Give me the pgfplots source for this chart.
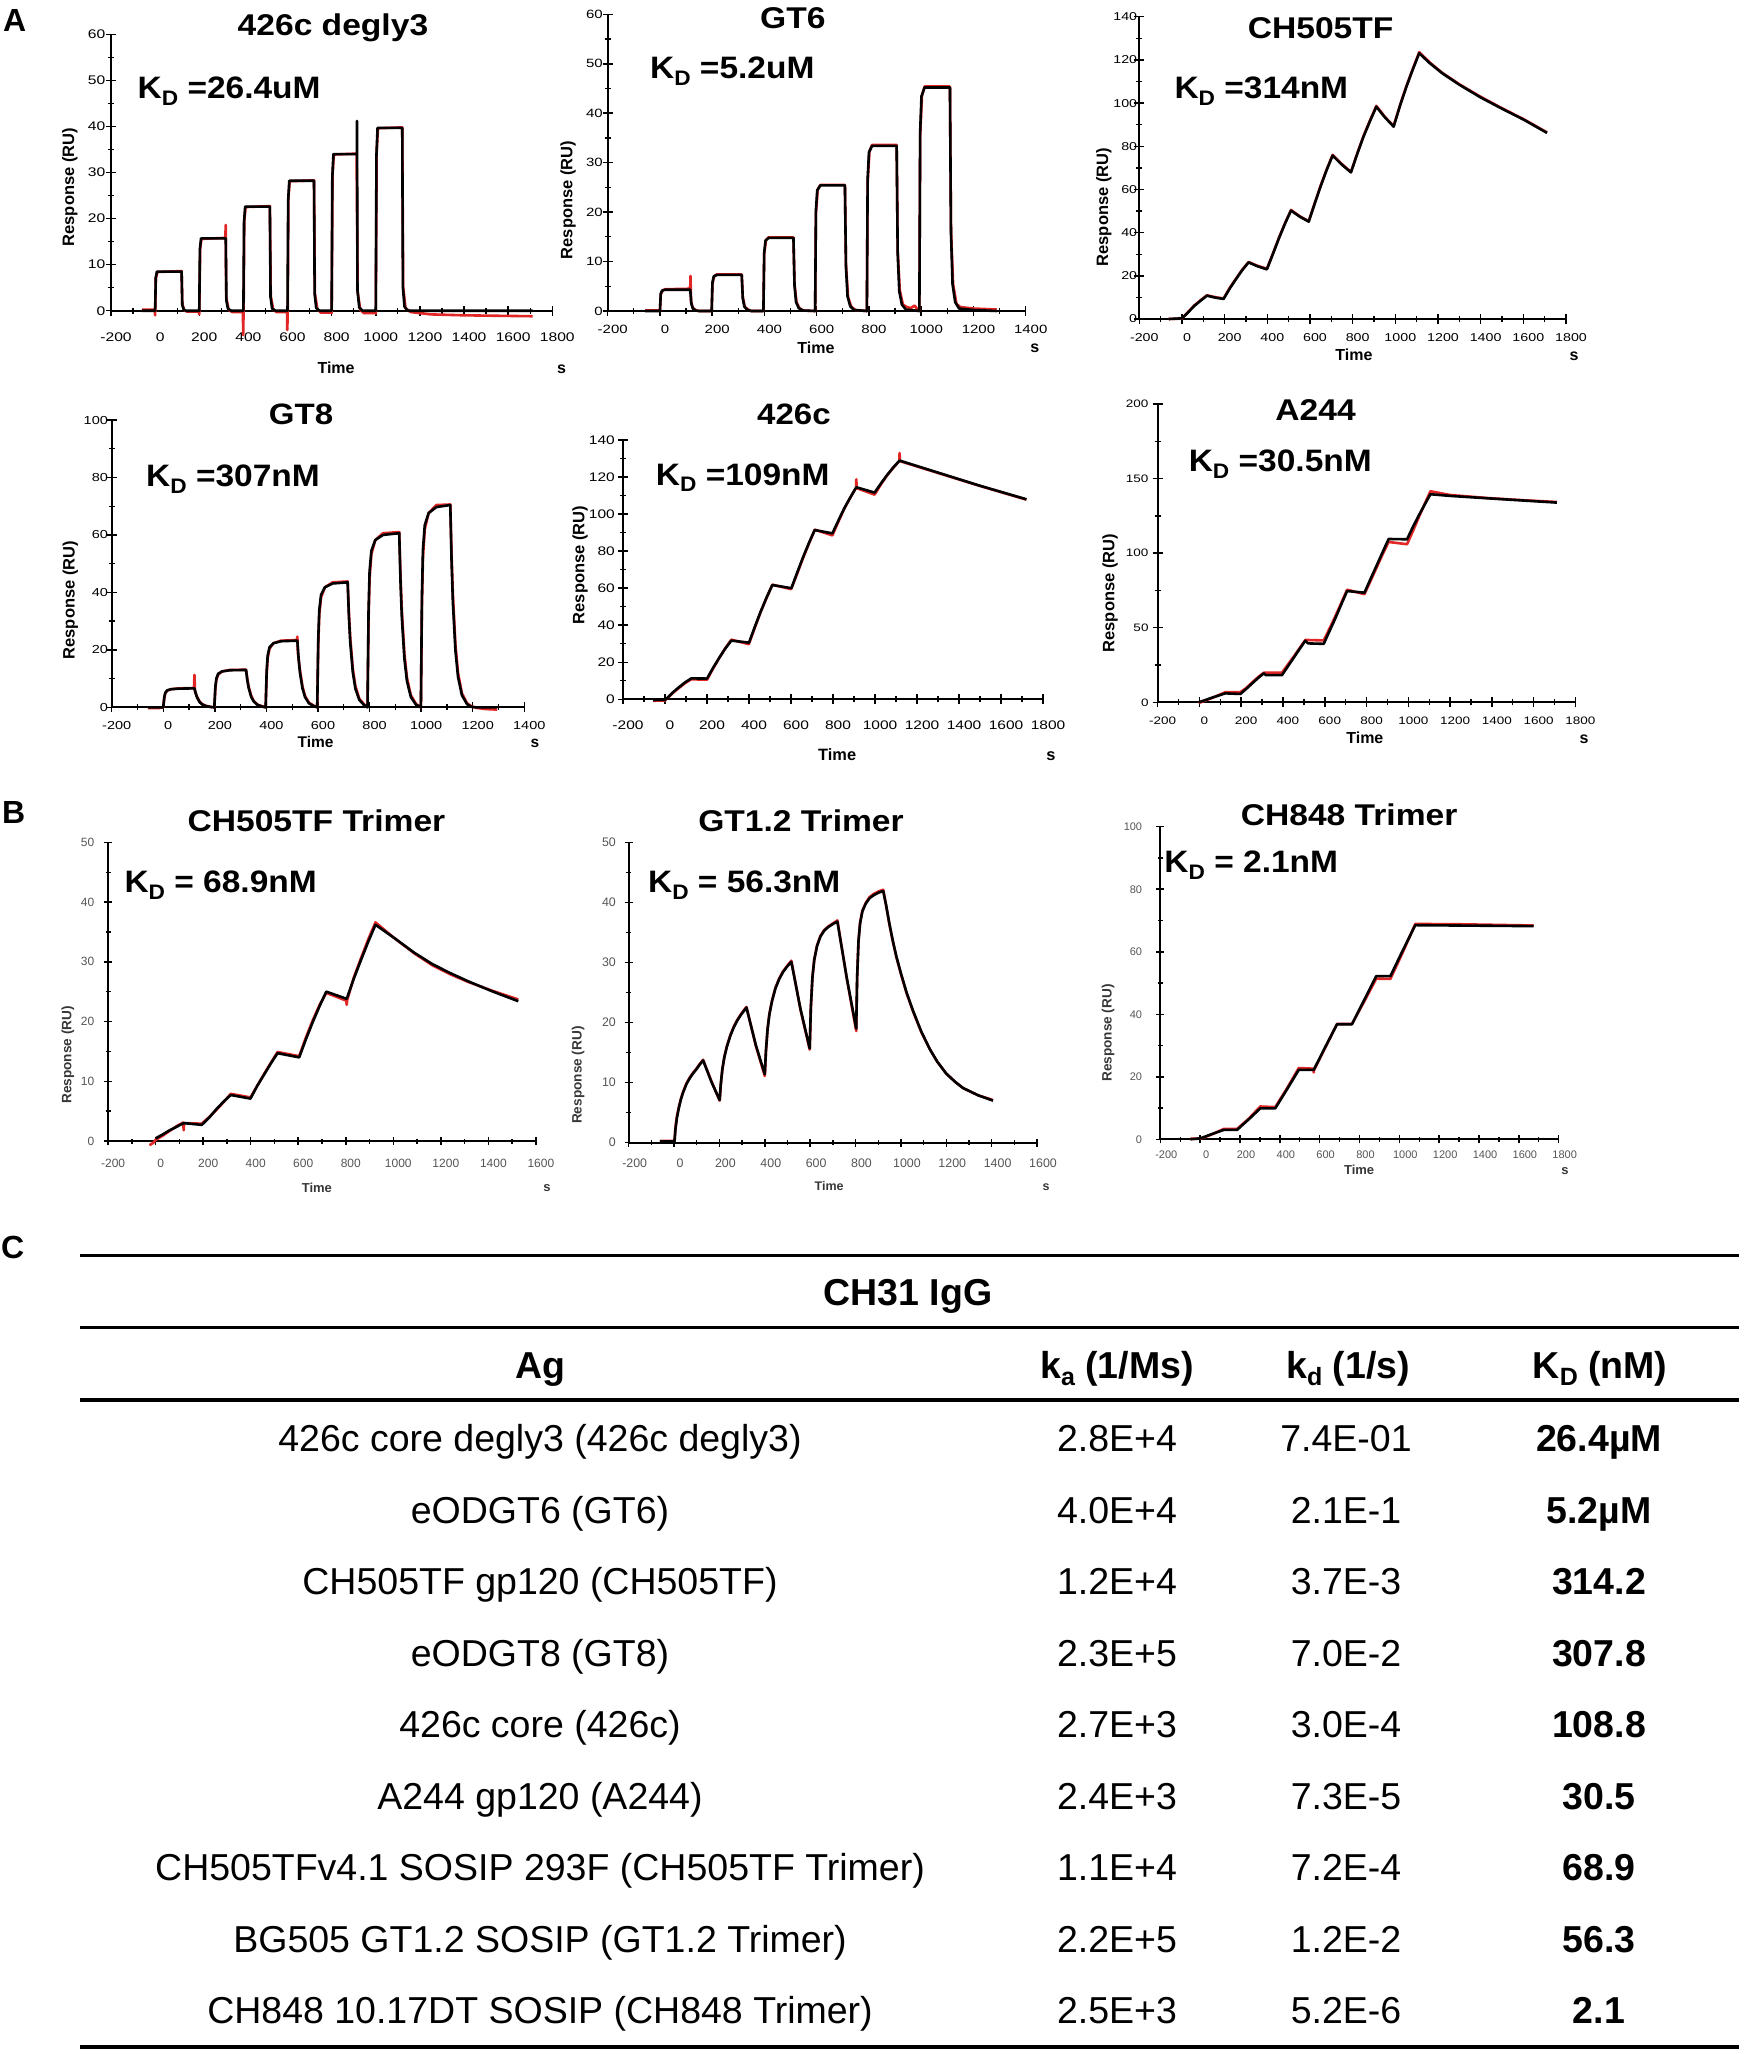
\documentclass[border=0pt]{standalone}
\usepackage{fontspec}
\setmainfont{Liberation Sans}
\newfontfamily\tickfont[FakeStretch=1.25]{Liberation Sans}
\newfontfamily\titlefont[FakeStretch=1.12]{Liberation Sans}
\newfontfamily\kdfont[FakeStretch=1.08]{Liberation Sans}
\usepackage{pgfplots}
\pgfplotsset{compat=1.18}
\newcommand{\fs}[1]{\fontsize{#1pt}{#1pt}\selectfont}
\definecolor{fitred}{RGB}{226,38,38}
\definecolor{labgray}{RGB}{55,55,55}
\definecolor{tickgray}{RGB}{85,85,85}
\newcommand{\KDsub}{K\raisebox{-0.22em}{\fs{21}D}}
\pgfplotsset{
  spr/.style={
    scale only axis, anchor=south west, clip=false,
    axis lines*=left,
    axis line style={line width=1.7pt, black},
    tick align=center,
    major tick length=10pt, minor tick length=6pt,
    major tick style={line width=1.5pt, black},
    minor tick style={line width=1.3pt, black},
    minor x tick num=1, minor y tick num=1,
    xticklabel style={inner sep=0pt, anchor=center},
    yticklabel style={inner sep=0pt, anchor=east},
    x label style={anchor=center, inner sep=0pt},
    y label style={anchor=center, inner sep=0pt},
  },
  fitr/.style={color=fitred, line width=2.6pt, line join=round, mark=none},
  fitk/.style={color=black, line width=2.6pt, line join=round, mark=none},
}
\begin{document}
\begin{tikzpicture}
\useasboundingbox (0,0) rectangle (1744pt,-2054pt);
% panel letters
\node[anchor=base west, inner sep=0pt, font=\bfseries\fs{32}] at (3pt,-31.7pt) {A};
\node[anchor=base west, inner sep=0pt, font=\bfseries\fs{32}] at (2pt,-823pt) {B};
\node[anchor=base west, inner sep=0pt, font=\bfseries\fs{32}] at (1pt,-1258pt) {C};

% ---------------- A1: 426c degly3
\begin{axis}[spr, at={(111pt,-310.7pt)}, width=441.3pt, height=276.4pt,
  xmin=-200, xmax=1800, ymin=0, ymax=60,
  xtick={-200,0,...,1800}, xticklabels={-200,0,200,400,600,800,1000,1200,1400,1600,1800},
  ytick={0,10,...,60}, yticklabels={0,10,20,30,40,50,60},
  tick label style={font=\tickfont\fs{12.5}},
  xticklabel style={yshift=-21.3pt, xshift=5pt}, yticklabel style={xshift=-0.5pt},
  xlabel={Time}, ylabel={Response (RU)},
  x label style={at={(axis description cs:0.510,-0.207)}, font=\bfseries\fs{16}},
  y label style={at={(axis description cs:-0.093,0.447)}, font=\bfseries\fs{16.5}},
]
\addplot[fitr] coordinates {(-60,0.2)(-2,0.2)(0,-1)(3,7)(10,8.4)(120,8.6)(123,1.5)(132,0.1)(145,-0.2)(198,-0.2)(200,-0.8)(204,13.5)(210,15.6)(318,15.8)(320,18.6)(322,3)(333,0.2)(350,-0.3)(398,-0.3)(399,-5.3)(401,0)(404,19.5)(410,22.5)(520,22.7)(524,3.2)(535,0.3)(550,-0.3)(598,-0.3)(599,-4.2)(601,0)(604,24.5)(610,28.1)(720,28.3)(724,3.8)(735,0.4)(750,-0.4)(798,-0.4)(800,-0.5)(804,29.5)(810,33.9)(913,34.1)(918,4)(930,0.2)(945,-0.5)(998,-0.5)(1000,-0.6)(1004,34.5)(1010,39.6)(1120,39.8)(1124,5.2)(1135,0.5)(1160,-0.3)(1250,-0.8)(1400,-1)(1550,-1.1)(1711,-1.2)};
\addplot[fitk] coordinates {(-60,0)(0,0)(3,7.2)(8,8.5)(120,8.5)(123,1.2)(130,0.2)(140,0)(200,0)(203,13.3)(208,15.7)(320,15.7)(323,2.2)(330,0.4)(345,0)(400,0)(403,19.2)(408,22.6)(520,22.6)(523,3)(530,0.5)(545,0)(600,0)(603,24)(608,28.2)(720,28.2)(723,3.6)(730,0.6)(745,0)(800,0)(803,28.9)(808,34)(915,34)(915,41.2)(917,4.5)(925,0.7)(940,0)(1000,0)(1003,33.7)(1008,39.7)(1120,39.7)(1123,5)(1130,0.9)(1145,0)(1711,0)};
\node[anchor=base, inner sep=0pt, font=\titlefont\bfseries\fs{30}] at (axis description cs:0.503,0.997) {426c degly3};
\node[anchor=base west, inner sep=0pt, font=\kdfont\bfseries\fs{31}] at (axis description cs:0.060,0.768) {\KDsub{} =26.4uM};
\node[inner sep=0pt, font=\bfseries\fs{16}] at (axis description cs:1.021,-0.211) {s};
\end{axis}

% ---------------- A2: GT6
\begin{axis}[spr, at={(607.7pt,-311pt)}, width=418pt, height=296.7pt,
  xmin=-200, xmax=1400, ymin=0, ymax=60,
  xtick={-200,0,...,1400}, xticklabels={-200,0,200,400,600,800,1000,1200,1400},
  ytick={0,10,...,60}, yticklabels={0,10,20,30,40,50,60},
  tick label style={font=\tickfont\fs{12}},
  xticklabel style={yshift=-13.3pt, xshift=5pt}, yticklabel style={xshift=0.3pt},
  xlabel={Time}, ylabel={Response (RU)},
  x label style={at={(axis description cs:0.498,-0.125)}, font=\bfseries\fs{16}},
  y label style={at={(axis description cs:-0.095,0.374)}, font=\bfseries\fs{16.5}},
]
\addplot[fitr] coordinates {(-57,0.1)(0,0.1)(3,3.3)(10,4.2)(20,4.4)(112,4.5)(116,5.0)(117,7.1)(119,2)(126,0.6)(140,0.1)(150,0)(198,0)(201,5.6)(208,7.1)(218,7.4)(313,7.4)(317,2.8)(325,0.8)(340,0.2)(350,0)(396,0)(399,11.5)(406,14.4)(416,14.9)(511,14.9)(515,5.5)(523,1.7)(535,0.5)(550,0.1)(594,0)(597,19.8)(604,24.6)(614,25.5)(708,25.5)(712,9.4)(720,2.8)(732,0.9)(748,0.2)(792,0)(795,26)(802,32.3)(812,33.6)(906,33.6)(910,12.2)(918,4.2)(930,1.3)(945,0.8)(960,0.6)(975,1.1)(986,0.3)(993,0)(996,35.5)(1003,43.6)(1013,45.4)(1110,45.4)(1114,16.5)(1122,5.5)(1135,1.4)(1150,0.8)(1200,0.5)(1289,0.3)};
\addplot[fitk] coordinates {(-57,0)(0,0)(3,3.5)(8,4.1)(20,4.3)(116,4.3)(120,1.5)(126,0.5)(136,0.1)(150,0)(198,0)(201,5.8)(206,7)(218,7.3)(313,7.3)(317,2.6)(323,0.9)(333,0.3)(348,0)(396,0)(399,11.8)(404,14.2)(416,14.8)(511,14.8)(515,5.2)(521,1.8)(531,0.6)(546,0.1)(594,0)(597,20.3)(602,24.4)(614,25.4)(708,25.4)(712,8.9)(718,3)(728,1)(743,0.2)(792,0)(795,26.7)(800,32.1)(812,33.4)(906,33.4)(910,11.7)(916,4)(926,1.3)(941,0.3)(993,0)(996,36.2)(1001,43.4)(1013,45.2)(1110,45.2)(1114,15.8)(1120,5.4)(1130,1.8)(1145,0.5)(1200,0.2)(1289,0)};
\node[anchor=base, inner sep=0pt, font=\titlefont\bfseries\fs{30}] at (axis description cs:0.443,0.953) {GT6};
\node[anchor=base west, inner sep=0pt, font=\kdfont\bfseries\fs{31}] at (axis description cs:0.101,0.782) {\KDsub{} =5.2uM};
\node[inner sep=0pt, font=\bfseries\fs{16}] at (axis description cs:1.022,-0.125) {s};
\end{axis}

% ---------------- A3: CH505TF
\begin{axis}[spr, at={(1139.3pt,-319pt)}, width=426.7pt, height=302.3pt,
  xmin=-200, xmax=1800, ymin=0, ymax=140,
  xtick={-200,0,...,1800}, xticklabels={-200,0,200,400,600,800,1000,1200,1400,1600,1800},
  ytick={0,20,...,140}, yticklabels={0,20,40,60,80,100,120,140},
  tick label style={font=\tickfont\fs{11.4}},
  xticklabel style={yshift=-14pt, xshift=5pt}, yticklabel style={xshift=3pt},
  xlabel={Time}, ylabel={Response (RU)},
  x label style={at={(axis description cs:0.503,-0.119)}, font=\bfseries\fs{16}},
  y label style={at={(axis description cs:-0.083,0.370)}, font=\bfseries\fs{16.5}},
]
\addplot[fitr] coordinates {(-62,0)(0,0.2)(30,3.4)(58,6.3)(90,8.9)(117,11)(156,10.1)(195,9.5)(225,14.6)(254,18.8)(283,22.9)(312,26.4)(355,24.6)(398,23.3)(427,30.5)(455,37.8)(483,44.4)(511,50.5)(552,47.6)(594,45.3)(622,53.6)(650,61.8)(678,69.2)(706,76)(749,71.8)(792,68.1)(822,76.9)(851,84.8)(881,91.9)(911,98.7)(951,93.6)(992,89.4)(1022,99)(1052,107.9)(1082,115.9)(1112,123.6)(1160,118.9)(1220,114)(1300,108.7)(1400,102.9)(1500,97.6)(1600,92.6)(1711,86.4)};
\addplot[fitk] coordinates {(-62,0)(0,0.3)(30,3.2)(58,6.1)(90,8.7)(117,10.8)(156,9.9)(195,9.3)(225,14.3)(254,18.6)(283,22.7)(312,26.2)(355,24.4)(398,23)(427,30.3)(455,37.5)(483,44.2)(511,50.2)(552,47.4)(594,45.1)(622,53.4)(650,61.5)(678,69)(706,75.7)(749,71.5)(792,67.9)(822,76.6)(851,84.5)(881,91.6)(911,98.3)(951,93.4)(992,89.1)(1022,98.8)(1052,107.6)(1082,115.6)(1112,123.1)(1160,118.6)(1220,113.8)(1300,108.5)(1400,102.6)(1500,97.4)(1600,92.4)(1711,86.2)};
\node[anchor=base, inner sep=0pt, font=\titlefont\bfseries\fs{30}] at (axis description cs:0.425,0.929) {CH505TF};
\node[anchor=base west, inner sep=0pt, font=\kdfont\bfseries\fs{31}] at (axis description cs:0.082,0.730) {\KDsub{} =314nM};
\node[inner sep=0pt, font=\bfseries\fs{16}] at (axis description cs:1.019,-0.122) {s};
\end{axis}

% ---------------- A4: GT8
\begin{axis}[spr, at={(111.7pt,-707.3pt)}, width=412.6pt, height=287.3pt,
  xmin=-200, xmax=1400, ymin=0, ymax=100,
  xtick={-200,0,...,1400}, xticklabels={-200,0,200,400,600,800,1000,1200,1400},
  ytick={0,20,...,100}, yticklabels={0,20,40,60,80,100},
  tick label style={font=\tickfont\fs{11.6}},
  xticklabel style={yshift=-12.7pt, xshift=5pt}, yticklabel style={xshift=1.4pt},
  xlabel={Time}, ylabel={Response (RU)},
  x label style={at={(axis description cs:0.494,-0.121)}, font=\bfseries\fs{15.5}},
  y label style={at={(axis description cs:-0.100,0.373)}, font=\bfseries\fs{16.5}},
]
\addplot[fitr] coordinates {(-60,-0.3)(-20,-0.3)(0,0)(4,3.3)(8,4.9)(15,5.8)(30,6.3)(60,6.6)(119,6.7)(121,11.3)(123,5.5)(131,3.7)(141,2)(151,1.1)(166,0.5)(186,0.1)(198,0)(202,6.5)(206,9.6)(213,11.4)(228,12.5)(258,13)(321,13.1)(326,9.8)(331,7.3)(341,4)(351,2.2)(366,0.9)(386,0.3)(397,0)(401,11.6)(405,17.2)(412,20.4)(427,22.3)(457,23.2)(518,23.4)(520,24.6)(522,19)(530,13)(540,7.2)(550,3.9)(565,1.6)(585,0.5)(597,0)(601,21.8)(605,32.2)(612,38.3)(627,41.8)(657,43.5)(715,43.8)(720,32.6)(725,24.4)(735,13.5)(745,7.4)(760,3)(780,0.9)(792,0)(796,30.3)(800,44.8)(807,53.3)(822,58.2)(852,60.6)(915,61)(920,45.5)(925,33.9)(935,18.8)(945,10.3)(960,4.2)(980,1.2)(999,0)(1003,35.2)(1007,52.1)(1014,62)(1029,67.6)(1059,70.4)(1113,70.6)(1118,52.8)(1123,39.4)(1133,21.8)(1143,12)(1158,4.9)(1178,1.4)(1198,0.2)(1215,-0.2)(1250,-0.6)(1295,-0.8)};
\addplot[fitk] coordinates {(-60,0)(0,0)(4,3.6)(8,5.1)(15,5.9)(30,6.3)(60,6.5)(121,6.6)(126,4.8)(131,3.4)(141,1.8)(151,1.0)(166,0.4)(186,0.1)(198,0)(202,7.2)(206,10.1)(213,11.7)(228,12.5)(258,12.9)(321,13)(326,9.4)(331,6.8)(341,3.6)(351,2)(366,0.8)(386,0.2)(397,0)(401,12.8)(405,18.1)(412,20.9)(427,22.3)(457,23)(520,23.2)(525,16.7)(530,12.1)(540,6.5)(550,3.5)(565,1.4)(585,0.35)(597,0)(601,23.9)(605,33.9)(612,39.2)(627,41.8)(657,43.1)(715,43.5)(720,31.3)(725,22.6)(735,12.2)(745,6.5)(760,2.6)(780,0.65)(792,0)(796,33.3)(800,47.3)(807,54.5)(822,58.2)(852,60)(915,60.6)(920,43.6)(925,31.5)(935,17)(945,9.1)(960,3.6)(980,0.9)(999,0)(1003,38.7)(1007,54.9)(1014,63.4)(1029,67.6)(1059,69.7)(1113,70.4)(1118,50.7)(1123,36.6)(1133,19.7)(1143,10.6)(1158,4.2)(1178,1.1)(1193,0.2)(1213,0)(1295,0)};
\node[anchor=base, inner sep=0pt, font=\titlefont\bfseries\fs{29.5}] at (axis description cs:0.459,0.983) {GT8};
\node[anchor=base west, inner sep=0pt, font=\kdfont\bfseries\fs{31}] at (axis description cs:0.083,0.768) {\KDsub{} =307nM};
\node[inner sep=0pt, font=\bfseries\fs{15.5}] at (axis description cs:1.026,-0.124) {s};
\end{axis}

% ---------------- A5: 426c
\begin{axis}[spr, at={(623pt,-699.3pt)}, width=420pt, height=259.3pt,
  xmin=-200, xmax=1800, ymin=0, ymax=140,
  xtick={-200,0,...,1800}, xticklabels={-200,0,200,400,600,800,1000,1200,1400,1600,1800},
  ytick={0,20,...,140}, yticklabels={0,20,40,60,80,100,120,140},
  tick label style={font=\tickfont\fs{12.4}},
  xticklabel style={yshift=-20.7pt, xshift=5pt}, yticklabel style={xshift=-3pt},
  xlabel={Time}, ylabel={Response (RU)},
  x label style={at={(axis description cs:0.510,-0.215)}, font=\bfseries\fs{16.4}},
  y label style={at={(axis description cs:-0.102,0.518)}, font=\bfseries\fs{16.5}},
]
\addplot[fitr] coordinates {(-57,-0.8)(0,-0.6)(6,0)(35,3.2)(65,6)(95,8.7)(125,10.8)(200,10.6)(229,16.6)(258,22.2)(287,27.6)(316,32.2)(398,29.8)(400,30)(428,38.8)(455,47)(483,54.6)(511,61.9)(600,59.5)(630,68)(657,76.2)(685,84)(713,91.6)(797,88.5)(826,96)(854,103)(883,109)(910,114.3)(911,118.8)(913,114)(998,110.5)(1028,116)(1057,120.8)(1087,125)(1116,128.7)(1117,133)(1119,128.6)(1300,122.2)(1500,115.2)(1721,107.8)};
\addplot[fitk] coordinates {(-57,-0.4)(0,-0.2)(6,0.2)(35,3.5)(65,6.4)(95,9.1)(125,11.3)(200,11.2)(229,17)(258,22.4)(287,27.4)(316,31.7)(400,30.6)(428,39.2)(455,47.2)(483,54.8)(511,61.7)(602,60)(630,68.6)(657,76.6)(685,84.3)(713,91.4)(797,89.6)(826,96.6)(854,103.2)(883,109.1)(911,114.5)(998,111.6)(1028,116.5)(1057,121)(1087,125.2)(1117,128.9)(1300,122.4)(1500,115.3)(1721,108)};
\node[anchor=base, inner sep=0pt, font=\titlefont\bfseries\fs{29.5}] at (axis description cs:0.407,1.058) {426c};
\node[anchor=base west, inner sep=0pt, font=\kdfont\bfseries\fs{31}] at (axis description cs:0.078,0.826) {\KDsub{} =109nM};
\node[inner sep=0pt, font=\bfseries\fs{16.4}] at (axis description cs:1.019,-0.219) {s};
\end{axis}

% ---------------- A6: A244
\begin{axis}[spr, at={(1157.7pt,-702.3pt)}, width=417.6pt, height=298.3pt,
  xmin=-200, xmax=1800, ymin=0, ymax=200,
  xtick={-200,0,...,1800}, xticklabels={-200,0,200,400,600,800,1000,1200,1400,1600,1800},
  ytick={0,50,...,200}, yticklabels={0,50,100,150,200},
  tick label style={font=\tickfont\fs{10.8}},
  xticklabel style={yshift=-13.7pt, xshift=5pt}, yticklabel style={xshift=-4pt},
  xlabel={Time}, ylabel={Response (RU)},
  x label style={at={(axis description cs:0.496,-0.120)}, font=\bfseries\fs{16}},
  y label style={at={(axis description cs:-0.114,0.366)}, font=\bfseries\fs{16.5}},
]
\addplot[fitr] coordinates {(-4,-0.5)(30,1.3)(60,2.9)(95,5)(124,6.8)(196,6.8)(224,9.6)(252,13.3)(280,16.8)(308,19.8)(395,19.8)(423,25.2)(451,30.6)(479,36.2)(507,41.8)(595,41.5)(623,49.5)(651,57.8)(679,66.6)(707,75.5)(790,72.5)(819,81.3)(848,90.2)(877,99.2)(906,107.5)(994,106)(1022,114.7)(1050,124)(1078,132.8)(1106,141.5)(1200,139)(1377,137)(1550,135.5)(1712,134.3)};
\addplot[fitk] coordinates {(-4,0)(30,1.6)(60,3.1)(95,4.7)(124,6)(196,5.6)(224,9)(252,12.6)(280,16.2)(308,19.4)(318,18.2)(395,18.2)(423,24)(451,29.8)(479,35.6)(507,41.3)(520,39.5)(595,39.2)(623,47.8)(651,56.4)(679,65.6)(707,74.6)(790,73.5)(819,82.6)(848,91.6)(877,100.6)(906,109.5)(994,109.3)(1022,117.5)(1050,125.2)(1078,132.4)(1106,139.5)(1200,138.4)(1377,136.8)(1550,135.3)(1712,133.9)};
\node[anchor=base, inner sep=0pt, font=\titlefont\bfseries\fs{30}] at (axis description cs:0.378,0.946) {A244};
\node[anchor=base west, inner sep=0pt, font=\kdfont\bfseries\fs{31}] at (axis description cs:0.074,0.773) {\KDsub{} =30.5nM};
\node[inner sep=0pt, font=\bfseries\fs{16}] at (axis description cs:1.021,-0.123) {s};
\end{axis}

% ---------------- B1: CH505TF Trimer
\begin{axis}[spr, at={(108.1pt,-1141pt)}, width=427.8pt, height=298.7pt,
  xmin=-200, xmax=1600, ymin=0, ymax=50,
  xtick={-200,0,...,1600}, xticklabels={-200,0,200,400,600,800,1000,1200,1400,1600},
  ytick={0,10,...,50}, yticklabels={0,10,20,30,40,50},
  major tick length=8pt, minor tick length=5pt,
  tick label style={font=\fs{12}, text=tickgray},
  xticklabel style={yshift=-18pt, xshift=5pt}, yticklabel style={xshift=-9.7pt},
  xlabel={Time}, ylabel={Response (RU)},
  x label style={at={(axis description cs:0.488,-0.157)}, font=\bfseries\fs{13}, text=labgray},
  y label style={at={(axis description cs:-0.094,0.288)}, font=\bfseries\fs{13.6}, text=labgray},
]
\addplot[fitr] coordinates {(-26,-0.7)(-10,-0.3)(0,0.2)(30,0.9)(59,1.7)(89,2.5)(116,3.1)(118,1.8)(120,3)(194,2.9)(225,4)(255,5.2)(286,6.5)(316,7.9)(399,7.3)(427,9.2)(456,11.2)(485,13.1)(513,14.9)(604,14.2)(632,17.3)(661,20.2)(690,22.8)(718,24.8)(802,23.5)(804,22.8)(806,23.6)(834,27.4)(865,30.7)(895,33.8)(925,36.6)(1000,34.1)(1089,31.4)(1165,29.4)(1240,27.9)(1317,26.6)(1420,25.1)(1526,23.7)};
\addplot[fitk] coordinates {(0,0.45)(30,1.1)(59,1.8)(89,2.4)(118,3)(194,2.7)(225,3.9)(255,5.3)(286,6.6)(316,7.7)(399,7.1)(427,9.2)(456,11.1)(485,13)(513,14.7)(604,14)(632,17)(661,19.9)(690,22.6)(718,25)(804,23.8)(834,27.2)(865,30.4)(895,33.4)(925,36.2)(1000,34.1)(1089,31.5)(1165,29.6)(1240,28.1)(1317,26.7)(1420,25)(1526,23.4)};
\node[anchor=base, inner sep=0pt, font=\titlefont\bfseries\fs{30}] at (axis description cs:0.487,1.036) {CH505TF Trimer};
\node[anchor=base west, inner sep=0pt, font=\kdfont\bfseries\fs{31}] at (axis description cs:0.038,0.833) {\KDsub{} = 68.9nM};
\node[inner sep=0pt, font=\bfseries\fs{13}, text=labgray] at (axis description cs:1.026,-0.157) {s};
\end{axis}

% ---------------- B2: GT1.2 Trimer
\begin{axis}[spr, at={(628.7pt,-1142.7pt)}, width=408.3pt, height=300.4pt,
  xmin=-200, xmax=1600, ymin=0, ymax=50,
  xtick={-200,0,...,1600}, xticklabels={-200,0,200,400,600,800,1000,1200,1400,1600},
  ytick={0,10,...,50}, yticklabels={0,10,20,30,40,50},
  major tick length=8pt, minor tick length=5pt,
  tick label style={font=\fs{12.4}, text=tickgray},
  xticklabel style={yshift=-16.3pt, xshift=6pt}, yticklabel style={xshift=-8.7pt},
  xlabel={Time}, ylabel={Response (RU)},
  x label style={at={(axis description cs:0.491,-0.144)}, font=\bfseries\fs{12.5}, text=labgray},
  y label style={at={(axis description cs:-0.124,0.225)}, font=\bfseries\fs{13.6}, text=labgray},
]
\addplot[fitr] coordinates {(-63,0.3)(2,0.3)(6,2.5)(12,4.3)(20,5.8)(30,7.3)(40,8.5)(55,9.9)(70,10.9)(85,11.7)(98,12.3)(113,13.1)(128,13.8)(165,10.2)(201,7.0)(206,9.6)(213,12.2)(222,14.4)(233,16.1)(248,17.9)(263,19.3)(278,20.4)(295,21.4)(319,22.6)(360,16.2)(400,11.1)(405,15.1)(412,18.9)(420,21.4)(432,23.7)(447,25.8)(463,27.3)(480,28.5)(498,29.4)(517,30.3)(557,22.2)(598,15.5)(603,22.4)(610,27.6)(618,30.5)(630,32.8)(645,34.4)(662,35.4)(680,36)(700,36.5)(720,37)(762,27.2)(803,18.6)(807,27.4)(813,33.6)(820,36.6)(830,38.6)(845,39.9)(862,40.9)(880,41.4)(900,41.8)(922,42.1)(935,39.4)(950,36.2)(965,33.4)(980,30.9)(1000,28.1)(1025,24.9)(1054,21.8)(1090,18.4)(1127,15.6)(1160,13.5)(1200,11.5)(1240,10.1)(1274,9.1)(1340,7.9)(1406,7.1)};
\addplot[fitk] coordinates {(-63,0.2)(2,0.2)(6,2.2)(12,4)(20,5.6)(30,7.2)(40,8.4)(55,9.8)(70,10.8)(85,11.6)(98,12.2)(113,13)(128,13.7)(165,10.1)(201,7.1)(206,9.8)(213,12.3)(222,14.3)(233,16)(248,17.8)(263,19.2)(278,20.3)(295,21.3)(319,22.5)(360,16.3)(400,11.4)(405,15.3)(412,18.8)(420,21.3)(432,23.6)(447,25.7)(463,27.2)(480,28.4)(498,29.3)(517,30.1)(557,22.3)(598,15.7)(603,22.6)(610,27.5)(618,30.4)(630,32.7)(645,34.3)(662,35.3)(680,35.9)(700,36.4)(720,36.8)(762,27.3)(803,19)(807,27.5)(813,33.5)(820,36.5)(830,38.5)(845,39.8)(862,40.7)(880,41.2)(900,41.6)(922,41.9)(935,39.5)(950,36.3)(965,33.5)(980,31)(1000,28.2)(1025,25)(1054,21.9)(1090,18.5)(1127,15.6)(1160,13.5)(1200,11.5)(1240,10.1)(1274,9.1)(1340,7.9)(1406,7)};
\node[anchor=base, inner sep=0pt, font=\titlefont\bfseries\fs{30}] at (axis description cs:0.422,1.035) {GT1.2 Trimer};
\node[anchor=base west, inner sep=0pt, font=\kdfont\bfseries\fs{31}] at (axis description cs:0.047,0.834) {\KDsub{} = 56.3nM};
\node[inner sep=0pt, font=\bfseries\fs{12.5}, text=labgray] at (axis description cs:1.022,-0.147) {s};
\end{axis}

% ---------------- B3: CH848 Trimer
\begin{axis}[spr, at={(1160.3pt,-1139.3pt)}, width=398.4pt, height=312.6pt,
  xmin=-200, xmax=1800, ymin=0, ymax=100,
  xtick={-200,0,...,1800}, xticklabels={-200,0,200,400,600,800,1000,1200,1400,1600,1800},
  ytick={0,20,...,100}, yticklabels={0,20,40,60,80,100},
  major tick length=8pt, minor tick length=5pt,
  tick label style={font=\fs{11}, text=tickgray},
  xticklabel style={yshift=-11.7pt, xshift=6pt}, yticklabel style={xshift=-14pt},
  xlabel={Time}, ylabel={Response (RU)},
  x label style={at={(axis description cs:0.499,-0.098)}, font=\bfseries\fs{13}, text=labgray},
  y label style={at={(axis description cs:-0.131,0.340)}, font=\bfseries\fs{13.6}, text=labgray},
]
\addplot[fitr] coordinates {(-49,0.2)(1,0.2)(60,1.6)(118,3.3)(185,3.3)(244,6.6)(302,10.5)(377,10.3)(436,16.3)(495,22.8)(568,22.6)(570,21.4)(572,22.2)(628,29.3)(687,36.9)(762,36.9)(823,44)(884,51.4)(955,51.3)(1017,59.8)(1080,68.9)(1300,68.8)(1674,68.4)};
\addplot[fitk] coordinates {(-49,0)(1,0.3)(60,1.7)(118,3)(185,3)(244,6.4)(302,9.9)(377,9.9)(436,16)(495,22.2)(570,22.2)(628,29.5)(687,36.8)(762,36.8)(823,44.5)(884,52.2)(955,52.2)(1017,60.4)(1080,68.5)(1674,68.2)};
\node[anchor=base, inner sep=0pt, font=\titlefont\bfseries\fs{30}] at (axis description cs:0.474,1.005) {CH848 Trimer};
\node[anchor=base west, inner sep=0pt, font=\kdfont\bfseries\fs{31}] at (axis description cs:0.010,0.853) {\KDsub{} = 2.1nM};
\node[inner sep=0pt, font=\bfseries\fs{13}, text=labgray] at (axis description cs:1.016,-0.101) {s};
\end{axis}

% ---------------- C: table
\draw[line width=3.5pt] (80pt,-1255.7pt) -- (1739pt,-1255.7pt);
\draw[line width=3.5pt] (80pt,-1327.5pt) -- (1739pt,-1327.5pt);
\draw[line width=3.5pt] (80pt,-1400pt) -- (1739pt,-1400pt);
\draw[line width=3.5pt] (80pt,-2047pt) -- (1739pt,-2047pt);
\node[anchor=base, inner sep=0pt, font=\bfseries\fs{37.5}] at (908pt,-1305.3pt) {CH31 IgG};
\node[anchor=base, inner sep=0pt, font=\bfseries\fs{37.5}] at (540pt,-1378pt) {Ag};
\node[anchor=base, inner sep=0pt, font=\bfseries\fs{37.5}] at (1117pt,-1378pt) {k\raisebox{-0.2em}{\fs{25}a} (1/Ms)};
\node[anchor=base, inner sep=0pt, font=\bfseries\fs{37.5}] at (1348pt,-1378pt) {k\raisebox{-0.2em}{\fs{25}d} (1/s)};
\node[anchor=base, inner sep=0pt, font=\bfseries\fs{37.5}] at (1600pt,-1378pt) {K\raisebox{-0.2em}{\fs{25}D} (nM)};
\foreach \yb/\ag/\ka/\kd/\kD in {
  1451.5/{426c core degly3 (426c degly3)}/{2.8E+4}/{7.4E-01}/{26.4µM},
  1523/{eODGT6 (GT6)}/{4.0E+4}/{2.1E-1}/{5.2µM},
  1594.5/{CH505TF gp120 (CH505TF)}/{1.2E+4}/{3.7E-3}/{314.2},
  1666/{eODGT8 (GT8)}/{2.3E+5}/{7.0E-2}/{307.8},
  1737.5/{426c core (426c)}/{2.7E+3}/{3.0E-4}/{108.8},
  1809/{A244 gp120 (A244)}/{2.4E+3}/{7.3E-5}/{30.5},
  1880.5/{CH505TFv4.1 SOSIP 293F (CH505TF Trimer)}/{1.1E+4}/{7.2E-4}/{68.9},
  1952/{BG505 GT1.2 SOSIP (GT1.2 Trimer)}/{2.2E+5}/{1.2E-2}/{56.3},
  2023.5/{CH848 10.17DT SOSIP (CH848 Trimer)}/{2.5E+3}/{5.2E-6}/{2.1}}{
  \node[anchor=base, inner sep=0pt, font=\fs{37.5}] at (540pt,-\yb pt) {\ag};
  \node[anchor=base, inner sep=0pt, font=\fs{37.5}] at (1117pt,-\yb pt) {\ka};
  \node[anchor=base, inner sep=0pt, font=\fs{37.5}] at (1346pt,-\yb pt) {\kd};
  \node[anchor=base, inner sep=0pt, font=\bfseries\fs{37.5}] at (1599pt,-\yb pt) {\kD};
}
\end{tikzpicture}
\end{document}
